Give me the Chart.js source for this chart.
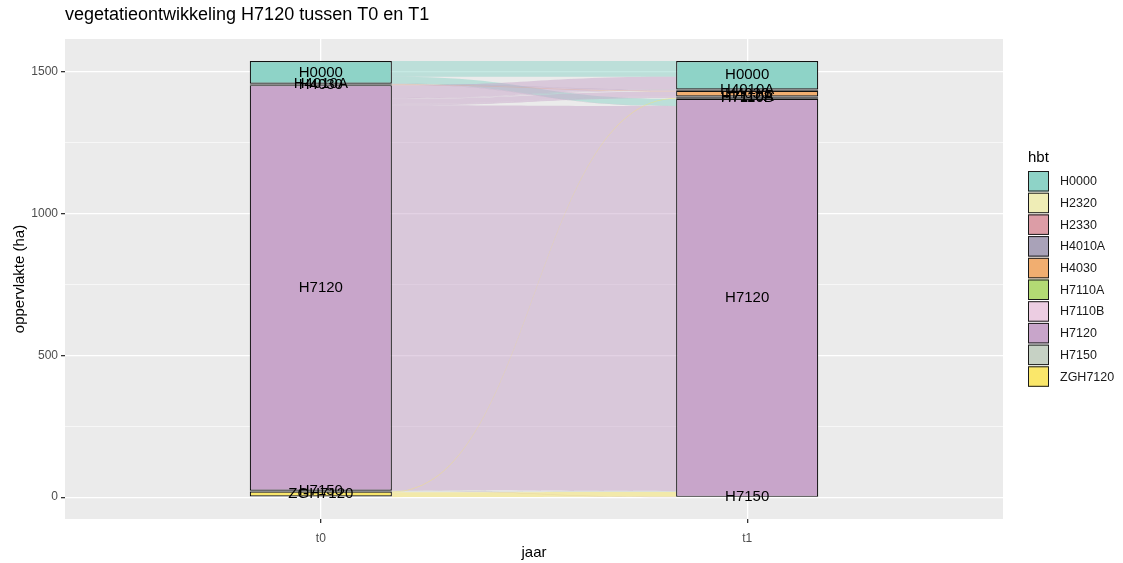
<!DOCTYPE html>
<html>
<head>
<meta charset="utf-8">
<script src="https://cdn.jsdelivr.net/npm/chart.js@4.4.0/dist/chart.umd.min.js"></script>
<style>
html,body{margin:0;padding:0;background:#ffffff;}
#wrap{width:1123px;height:563px;position:relative;}
</style>
</head>
<body>
<div id="wrap"><canvas id="c" width="1123" height="563"></canvas></div>
<script>
// ---------- data ----------
const chartTitle = 'vegetatieontwikkeling H7120 tussen T0 en T1';
const xTitle = 'jaar';
const yTitle = 'oppervlakte (ha)';
const legendTitle = 'hbt';
const axesLabels = ['t0', 't1'];
const categories = ['H0000','H2320','H2330','H4010A','H4030','H7110A','H7110B','H7120','H7150','ZGH7120'];
const categoryColors = ['#8ED3C7','#EFEDB6','#DC9DA6','#A9A2B8','#F1AE70','#B3DA74','#ECCDE2','#C8A5CA','#C6D1C4','#FAE76A'];
const t0Values = [80, null, null, 3, 2, null, null, 1429, 3, 20];
const t1Values = [100, null, null, 5, 20, 3, 5, 1403, 1, null];
const flowFrom   = ['H0000','H0000','H4010A','H4010A','H4030','H7120','H7120','H7120','H7120','H7120','H7120','H7120','H7150','ZGH7120','ZGH7120'];
const flowTo     = ['H0000','H7120','H4010A','H7120','H4030','H0000','H4010A','H4030','H7110A','H7110B','H7120','H7150','H7120','H7110B','H7120'];
const flowValues = [55, 25, 2, 1, 2, 45, 3, 18, 3, 2, 1357, 1, 3, 3, 17];
const yTickValues = [0, 250, 500, 750, 1000, 1250, 1500];
const yTickLabels = ['0', '', '500', '', '1000', '', '1500'];
const yMin = -77, yMax = 1614.7;

const FONT = "'Liberation Sans', Arial, sans-serif";
Chart.defaults.font.family = FONT;

// stacked bars: bottom category first
const order = categories.map((c, i) => i).reverse();
const datasets = order.map(i => ({
  label: categories[i],
  data: [{x: 1, y: t0Values[i]}, {x: 2, y: t1Values[i]}],
  backgroundColor: categoryColors[i],
  borderColor: '#111111',
  borderWidth: 1.2,
  borderSkipped: false,
  categoryPercentage: 1,
  barPercentage: 1 / 3
}));

function hexA(hex, a) {
  const r = parseInt(hex.slice(1,3),16), g = parseInt(hex.slice(3,5),16), b = parseInt(hex.slice(5,7),16);
  return `rgba(${r},${g},${b},${a})`;
}

function strataTops(values) {
  const total = values.reduce((s, v) => s + (v || 0), 0);
  const tops = {};
  let acc = total;
  categories.forEach((c, i) => { tops[c] = acc; acc -= (values[i] || 0); });
  return tops;
}

const bgPlugin = {
  id: 'panelBg',
  beforeDraw(chart) {
    const {ctx, chartArea: a} = chart;
    ctx.save();
    ctx.fillStyle = '#ffffff';
    ctx.fillRect(0, 0, chart.width, chart.height);
    ctx.fillStyle = '#EBEBEB';
    ctx.fillRect(a.left, a.top, a.right - a.left, a.bottom - a.top);
    ctx.restore();
  }
};

const flowPlugin = {
  id: 'flows',
  beforeDatasetsDraw(chart) {
    const {ctx, scales: {x, y}} = chart;
    let half = 0;
    chart.data.datasets.forEach((d, di) => {
      chart.getDatasetMeta(di).data.forEach(el => { if (el && el.width) half = Math.max(half, el.width / 2); });
    });
    const x0 = x.getPixelForValue(1) + half;
    const x1 = x.getPixelForValue(2) - half;
    const xm = (x0 + x1) / 2;
    const tops0 = strataTops(t0Values);
    const tops1 = strataTops(t1Values);
    const idx = c => categories.indexOf(c);
    const flows = flowValues.map((v, k) => ({k, from: flowFrom[k], to: flowTo[k], v}));
    const pos0 = {}, pos1 = {};
    const cur0 = Object.assign({}, tops0), cur1 = Object.assign({}, tops1);
    flows.slice().sort((a, b) => idx(a.from) - idx(b.from) || idx(a.to) - idx(b.to)).forEach(f => {
      pos0[f.k] = [cur0[f.from], cur0[f.from] - f.v];
      cur0[f.from] -= f.v;
    });
    flows.slice().sort((a, b) => idx(a.to) - idx(b.to) || idx(a.from) - idx(b.from)).forEach(f => {
      pos1[f.k] = [cur1[f.to], cur1[f.to] - f.v];
      cur1[f.to] -= f.v;
    });
    ctx.save();
    flows.forEach(f => {
      const a0 = y.getPixelForValue(pos0[f.k][0]), b0 = y.getPixelForValue(pos0[f.k][1]);
      const a1 = y.getPixelForValue(pos1[f.k][0]), b1 = y.getPixelForValue(pos1[f.k][1]);
      ctx.beginPath();
      ctx.moveTo(x0, a0);
      ctx.bezierCurveTo(xm, a0, xm, a1, x1, a1);
      ctx.lineTo(x1, b1);
      ctx.bezierCurveTo(xm, b1, xm, b0, x0, b0);
      ctx.closePath();
      ctx.fillStyle = hexA(categoryColors[idx(f.from)], 0.5);
      ctx.fill();
    });
    ctx.restore();
  }
};

const labelPlugin = {
  id: 'stratumLabels',
  afterDatasetsDraw(chart) {
    const {ctx} = chart;
    ctx.save();
    ctx.font = `15px ${FONT}`;
    ctx.fillStyle = '#000000';
    ctx.textAlign = 'center';
    ctx.textBaseline = 'middle';
    chart.data.datasets.forEach((d, di) => {
      chart.getDatasetMeta(di).data.forEach((el, j) => {
        const raw = d.data[j].y;
        if (raw === null || raw === undefined) return;
        ctx.fillText(d.label, el.x, (el.y + el.base) / 2);
      });
    });
    ctx.restore();
  }
};

const titleLegendPlugin = {
  id: 'titleLegend',
  afterDraw(chart) {
    const {ctx, chartArea: a} = chart;
    ctx.save();
    ctx.fillStyle = '#000000';
    ctx.textBaseline = 'middle';
    ctx.textAlign = 'left';
    ctx.font = `18px ${FONT}`;
    ctx.fillText(chartTitle, a.left, 15);
    const lx = 1028, ly0 = 171, step = 21.7, kw = 21, kh = 20.5;
    ctx.font = `15px ${FONT}`;
    ctx.fillText(legendTitle, lx, 158);
    ctx.font = `12.5px ${FONT}`;
    categories.forEach((c, i) => {
      const yy = ly0 + i * step;
      ctx.fillStyle = categoryColors[i];
      ctx.fillRect(lx, yy, kw, kh);
      ctx.strokeStyle = '#1a1a1a';
      ctx.lineWidth = 1;
      ctx.strokeRect(lx + 0.5, yy + 0.5, kw - 1, kh - 1);
      ctx.fillStyle = '#1a1a1a';
      ctx.fillText(c, lx + 32, yy + kh / 2 + 0.5);
    });
    ctx.restore();
  }
};

new Chart(document.getElementById('c'), {
  type: 'bar',
  data: {datasets},
  options: {
    responsive: false,
    animation: false,
    layout: {padding: {top: 39, right: 120, left: 0, bottom: 0}},
    plugins: {legend: {display: false}, tooltip: {enabled: false}, title: {display: false}},
    scales: {
      x: {
        type: 'linear', stacked: true, min: 0.4, max: 2.6, offset: false,
        afterBuildTicks: s => { s.ticks = [1, 2].map(v => ({value: v})); },
        afterFit: s => { s.height = 44; },
        grid: {offset: false, color: '#ffffff', lineWidth: 1.3, tickColor: '#333333', tickLength: 4, drawTicks: true},
        border: {display: false},
        ticks: {autoSkip: false, maxRotation: 0, padding: 8, color: '#4D4D4D', font: {size: 12},
          callback: v => axesLabels[v - 1]},
        title: {display: true, text: xTitle, color: '#000000', font: {size: 15}, padding: {top: 0, bottom: 1}}
      },
      y: {
        type: 'linear', stacked: true, min: yMin, max: yMax,
        afterBuildTicks: s => { s.ticks = yTickValues.map(v => ({value: v})); },
        afterFit: s => { s.width = 65; },
        grid: {color: '#ffffff',
          lineWidth: c => (c.tick && yTickLabels[yTickValues.indexOf(c.tick.value)] !== '') ? 1.3 : 0.6,
          tickColor: c => (c.tick && yTickLabels[yTickValues.indexOf(c.tick.value)] !== '') ? '#333333' : 'rgba(0,0,0,0)',
          tickLength: 4, drawTicks: true},
        border: {display: false},
        ticks: {autoSkip: false, padding: 3, color: '#4D4D4D', font: {size: 12},
          callback: v => yTickLabels[yTickValues.indexOf(v)] || ''},
        title: {display: true, text: yTitle, color: '#000000', font: {size: 15}, padding: {top: 11, bottom: 0}}
      }
    }
  },
  plugins: [bgPlugin, flowPlugin, labelPlugin, titleLegendPlugin]
});
</script>
</body>
</html>
